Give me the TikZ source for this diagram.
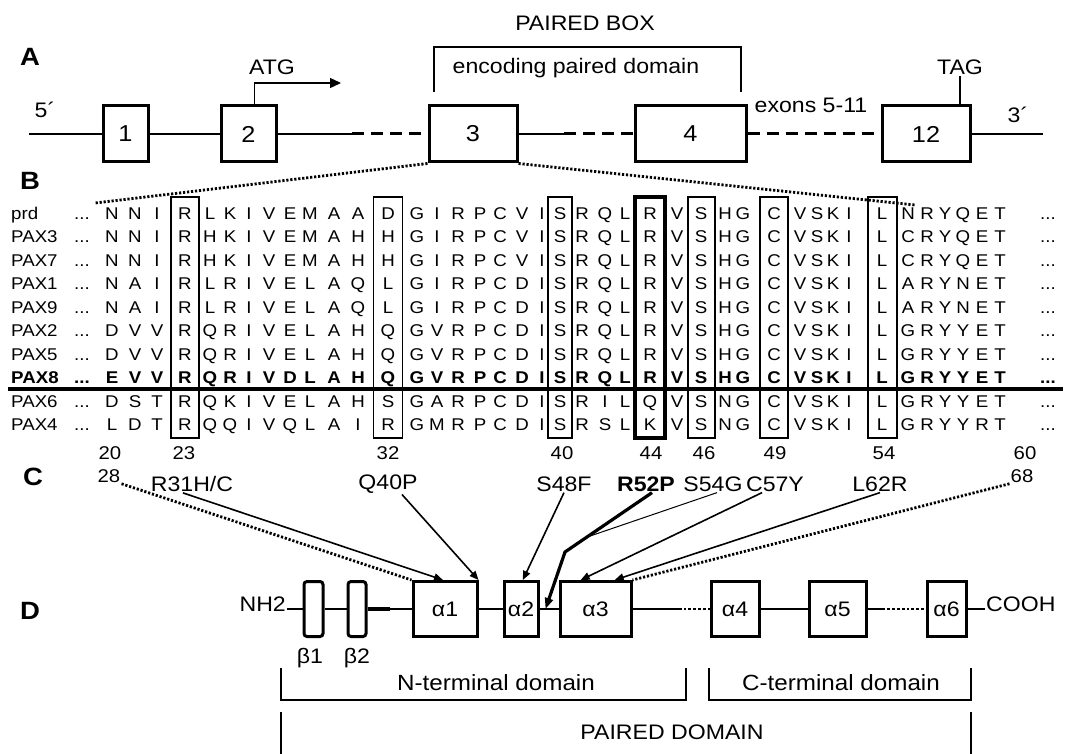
\documentclass[tikz,border=0pt]{standalone}
\usepackage{fontspec}
\setmainfont{Liberation Sans}[FakeStretch=1.1]
\usetikzlibrary{positioning,arrows.meta,calc}

\begin{document}
\begin{tikzpicture}[x=1pt, y=-1pt,
    lab/.style={inner sep=1pt, font=\fontsize{21}{24}\selectfont},
    partlab/.style={inner sep=0pt, font=\bfseries\fontsize{25}{28}\selectfont},
    exon/.style={draw, line width=3pt, minimum height=56pt, inner sep=0pt,
                 font=\fontsize{23}{25}\selectfont},
    intron/.style={line width=2.8pt},
    thinline/.style={line width=1.3pt},
    gap/.style={line width=3pt, dash pattern=on 12pt off 7pt},
    dots/.style={line width=2.8pt, dash pattern=on 2.2pt off 1.8pt},
    res/.style={inner sep=0pt, text height=12.2pt, text depth=0pt,
                font=\fontsize{17}{19}#1\selectfont},
    colbox/.style={draw, line width=1.6pt, minimum height=241pt, inner sep=0pt},
    num/.style={inner sep=1pt, font=\fontsize{18.5}{20}\selectfont},
    helix/.style={draw, line width=3pt, minimum height=55pt, inner sep=0pt,
                  font=\fontsize{21}{24}\selectfont},
    strand/.style={draw, line width=3pt, rounded corners=3pt,
                   minimum height=55pt, inner sep=0pt},
    pline/.style={line width=2.8pt},
    bracket/.style={line width=1.3pt},
    mut/.style={line width=1.6pt, -{Triangle[length=9pt,width=7.5pt]}}]

  \useasboundingbox (0,0) rectangle (1066,754);

  % A: gene
  \node[partlab] (labA) at (30,57) {A};
  \node[exon, minimum width=45pt]  (ex1)  at (125.5,134) {1};
  \node[exon, minimum width=55pt]  (ex2)  at (248.5,134) {2};
  \node[exon, minimum width=88pt]  (ex3)  at (473,134)   {3};
  \node[exon, minimum width=111pt] (ex4)  at (690.5,134) {4};
  \node[exon, minimum width=88pt]  (ex12) at (926,134)   {12};
  \node[lab] (p5)    at (45,110)  {5´};
  \node[lab] (p3)    at (1018,115) {3´};
  \node[lab] (atg)   at (272,67)  {ATG};
  \node[lab] (tag)   at (960,67)  {TAG};
  \node[lab] (exons) at (811,105) {exons 5-11};
  \node[lab] (pbox)  at (585,23)  {PAIRED BOX};
  \node[lab] (enc)   at (576,68)  {encoding paired domain};
  \coordinate (five)   at (29,134);
  \coordinate (three)  at (1043,134);
  \coordinate (c23)    at (352,134);
  \coordinate (c34)    at (564,134);
  \coordinate (atgtip) at (341,83);

  \draw[intron] (five) -- (ex1);
  \draw[intron] (ex1) -- (ex2);
  \draw[thinline] (ex2) -- (c23);
  \draw[gap] (c23) -- (ex3);
  \draw[thinline] (ex3) -- (c34);
  \draw[gap] (c34) -- (ex4);
  \draw[gap] (ex4) -- (ex12);
  \draw[intron] (ex12) -- (three);
  \draw[line width=1.4pt, -{Triangle[length=11pt,width=10pt]}]
    ($(ex2.north west)!0.6!(ex2.north east)$) |- (atgtip);
  \draw[line width=1.4pt] (tag.south |- ex12.north) -- (tag.south);
  \draw[bracket] (434,92) -- (434,47) -- (741,47) -- (741,92);

  \coordinate (zl) at (95,203);
  \coordinate (zr) at (915,205);
  \draw[dots] (ex3.south west) -- (zl);
  \draw[dots] (ex3.south east) -- (zr);

  % B: alignment
  \node[partlab] (labB) at (30,181) {B};
  \def\colx{{112,135,157,185,210,230,249,269,290,310,334,358,388,417,437,458,480,500,522,542,560,582,605,625,650,677,701,725,743,774,800,817,833,849,882,908,927,945,963,982,1000}}
  \foreach \lab/\ser/\seq [count=\rw] in {
      prd/\mdseries/{N,N,I,R,L,K,I,V,E,M,A,A,D,G,I,R,P,C,V,I,S,R,Q,L,R,V,S,H,G,C,V,S,K,I,L,N,R,Y,Q,E,T},
      PAX3/\mdseries/{N,N,I,R,H,K,I,V,E,M,A,H,H,G,I,R,P,C,V,I,S,R,Q,L,R,V,S,H,G,C,V,S,K,I,L,C,R,Y,Q,E,T},
      PAX7/\mdseries/{N,N,I,R,H,K,I,V,E,M,A,H,H,G,I,R,P,C,V,I,S,R,Q,L,R,V,S,H,G,C,V,S,K,I,L,C,R,Y,Q,E,T},
      PAX1/\mdseries/{N,A,I,R,L,R,I,V,E,L,A,Q,L,G,I,R,P,C,D,I,S,R,Q,L,R,V,S,H,G,C,V,S,K,I,L,A,R,Y,N,E,T},
      PAX9/\mdseries/{N,A,I,R,L,R,I,V,E,L,A,Q,L,G,I,R,P,C,D,I,S,R,Q,L,R,V,S,H,G,C,V,S,K,I,L,A,R,Y,N,E,T},
      PAX2/\mdseries/{D,V,V,R,Q,R,I,V,E,L,A,H,Q,G,V,R,P,C,D,I,S,R,Q,L,R,V,S,H,G,C,V,S,K,I,L,G,R,Y,Y,E,T},
      PAX5/\mdseries/{D,V,V,R,Q,R,I,V,E,L,A,H,Q,G,V,R,P,C,D,I,S,R,Q,L,R,V,S,H,G,C,V,S,K,I,L,G,R,Y,Y,E,T},
      PAX8/\bfseries/{E,V,V,R,Q,R,I,V,D,L,A,H,Q,G,V,R,P,C,D,I,S,R,Q,L,R,V,S,H,G,C,V,S,K,I,L,G,R,Y,Y,E,T},
      PAX6/\mdseries/{D,S,T,R,Q,K,I,V,E,L,A,H,S,G,A,R,P,C,D,I,S,R,I,L,Q,V,S,N,G,C,V,S,K,I,L,G,R,Y,Y,E,T},
      PAX4/\mdseries/{L,D,T,R,Q,Q,I,V,Q,L,A,I,R,G,M,R,P,C,D,I,S,R,S,L,K,V,S,N,G,C,V,S,K,I,L,G,R,Y,Y,R,T}}
  {
    \pgfmathsetmacro{\rowy}{213+23.5*(\rw-1)}
    \node[res=\ser, anchor=west] (lab\rw) at (11,\rowy) {\lab};
    \node[res=\ser] (dl\rw) at (82,\rowy) {...};
    \foreach \letter [count=\ci from 0] in \seq {
      \pgfmathsetmacro{\xx}{\colx[\ci]}
      \node[res=\ser] (r\rw-\ci) at (\xx,\rowy) {\letter};
    }
    \node[res=\ser] (dr\rw) at (1048,\rowy) {...};
  }
  \foreach \n/\x/\w in {23/185/28pt, 32/388/29pt, 40/560/24pt, 46/701.5/27pt, 49/774/28pt, 54/882.5/29pt}
    \node[colbox, minimum width=\w] (box\n) at (\x,317.5) {};
  \node[colbox, line width=4.5pt, minimum width=30pt] (box44) at (650,317.5) {};
  \coordinate (sepl) at (8,389);
  \coordinate (sepr) at (1063,389);
  \draw[line width=3.8pt] (sepl) -- (sepr);

  % C: numbering and mutations
  \node[partlab] (labC) at (33,477) {C};
  \foreach \n/\x in {20/110, 23/184, 32/388, 40/562, 44/651, 46/704, 49/775, 54/884, 60/1025}
    \node[num] (num\n) at (\x,453) {\n};
  \node[num] (num28) at (109,476) {28};
  \node[num] (num68) at (1022,476) {68};
  \node[lab] (mR31) at (192,484) {R31H/C};
  \node[lab] (mQ40) at (388,484) {Q40P};
  \node[lab] (mS48) at (564,484) {S48F};
  \node[lab, font=\bfseries\fontsize{21}{24}\selectfont] (mR52) at (646,484) {R52P};
  \node[lab] (mS54) at (713,484) {S54G};
  \node[lab] (mC57) at (775,484) {C57Y};
  \node[lab] (mL62) at (880,484) {L62R};

  % D: protein
  \node[partlab] (labD) at (30,611) {D};
  \node[lab, anchor=base east] (nh2) at (287,611) {NH2};
  \node[strand, minimum width=19pt] (b1) at (313.5,609) {};
  \node[strand, minimum width=18pt] (b2) at (357,609) {};
  \node[helix, minimum width=64pt] (a1) at (445,609)   {α1};
  \node[helix, minimum width=34pt] (a2) at (521,609)   {α2};
  \node[helix, minimum width=71pt] (a3) at (595.5,609) {α3};
  \node[helix, minimum width=48pt] (a4) at (735,609)   {α4};
  \node[helix, minimum width=57pt] (a5) at (837.5,609) {α5};
  \node[helix, minimum width=39pt] (a6) at (946.5,609) {α6};
  \node[lab, anchor=base west] (cooh) at (985,611) {COOH};
  \node[lab] (lb1) at (310,658) {β1};
  \node[lab] (lb2) at (357,658) {β2};

  \coordinate (m34) at ($(a3.east)!0.6!(a4.west)$);
  \coordinate (m56) at ($(a5.east)!0.26!(a6.west)$);
  \draw[pline] (b1.west -| nh2.east) -- (b1.west);
  \draw[pline] (b1.east) -- (b2.west);
  \draw[pline] (b2.east) -- (a1.west);
  \draw[line width=4.8pt] (b2.east) -- ($(b2.east)!0.5!(a1.west)$);
  \draw[pline] (a1.east) -- (a2.west);
  \draw[pline] (a2.east) -- (a3.west);
  \draw[pline] (a3.east) -- (m34);
  \draw[pline, dotted] (m34) -- (a4.west);
  \draw[pline] (a4.east) -- (a5.west);
  \draw[pline] (a5.east) -- (m56);
  \draw[pline, dotted] (m56) -- (a6.west);
  \draw[pline] (a6.east) -- (a6.east -| cooh.west);

  \coordinate (r52s) at ($(mR52.south)+(6,0)$);
  \coordinate (kink) at (565,552);
  \coordinate (join) at ($(r52s)!0.75!(kink)$);
  \draw[dots] (num28.south east) -- (a1.north west);
  \draw[dots] (num68.south west) -- (a3.north east);
  \draw[mut] ($(mR31.south)+(-9,0)$) -- ($(a1.north west)!0.47!(a1.north east)$);
  \draw[mut] ($(mQ40.south)+(14,0)$) -- (a1.north east);
  \draw[mut] (mS48.south) -- ($(a2.north west)!0.55!(a2.north east)$);
  \draw[line width=3.2pt, -{Triangle[length=11pt,width=8pt]}]
    (r52s) -- (kink) -- ($(a2.east)+(6,0)$);
  \draw[line width=1pt] ($(mS54.south)+(4,0)$) -- (join);
  \draw[mut] ($(mC57.south)+(-13,0)$) -- ($(a3.north west)!0.3!(a3.north east)$);
  \draw[mut] (mL62.south) -- ($(a3.north west)!0.76!(a3.north east)$);

  \node[lab, font=\fontsize{22}{24}\selectfont] (nterm) at (496,683) {N-terminal domain};
  \node[lab, font=\fontsize{22}{24}\selectfont] (cterm) at (841,683) {C-terminal domain};
  \node[lab] (pdom) at (672,732) {PAIRED DOMAIN};
  \draw[bracket] (281,668) |- (686,700) -- (686,668);
  \draw[bracket] (709,668) |- (971,700) -- (971,668);
  \draw[bracket] (281,712) -- (281,754);
  \draw[bracket] (971,712) -- (971,754);
\end{tikzpicture}
\end{document}
